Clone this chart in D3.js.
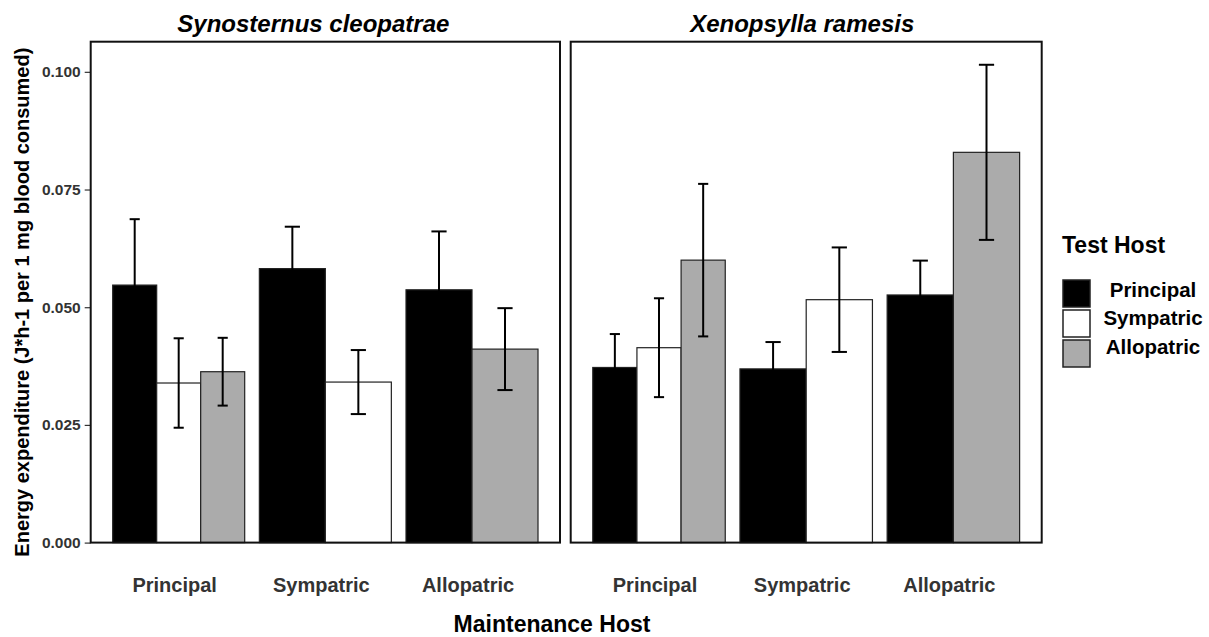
<!DOCTYPE html>
<html>
<head>
<meta charset="utf-8">
<script src="https://cdn.jsdelivr.net/npm/d3@7"></script>
<style>
  html, body { margin: 0; padding: 0; background: #fff; }
  text { font-family: "Liberation Sans", Arial, sans-serif; }
</style>
</head>
<body>
<script>
// ---------- data ----------
const panelTitles = ["Synosternus cleopatrae", "Xenopsylla ramesis"];
const maintenanceHosts = ["Principal", "Sympatric", "Allopatric"];
const testHosts = ["Principal", "Sympatric", "Allopatric"];
const testHostColors = ["#000000", "#ffffff", "#ababab"];
const yTickValues = [0, 0.025, 0.05, 0.075, 0.1];

// means: rows = maintenance host, cols = test host (null = not tested)
const cleopatraeMean = [
  [0.0547, 0.0339, 0.0363],
  [0.0582, 0.0341, null],
  [0.0537, null, 0.0411]
];
const cleopatraeSE = [
  [0.0140, 0.0095, 0.0072],
  [0.0089, 0.0068, null],
  [0.0124, null, 0.0087]
];
const ramesisMean = [
  [0.0372, 0.0414, 0.0600],
  [0.0369, 0.0516, null],
  [0.0526, null, 0.0829]
];
const ramesisSE = [
  [0.0071, 0.0105, 0.0162],
  [0.0057, 0.0111, null],
  [0.0073, null, 0.0186]
];
const panelMeans = [cleopatraeMean, ramesisMean];
const panelSEs = [cleopatraeSE, ramesisSE];

// ---------- layout ----------
const W = 1209, H = 637;
const panelRanges = [[90.7, 560], [570.7, 1041.7]];
const plotTop = 41.7, plotBottom = 542.6;

const svg = d3.select("body").append("svg").attr("width", W).attr("height", H);

const y = d3.scaleLinear().domain([0, 0.1064]).range([plotBottom, plotTop]);

// y axis
const yAxis = svg.append("g")
  .attr("transform", `translate(${panelRanges[0][0]},0)`)
  .call(d3.axisLeft(y).tickValues(yTickValues).tickFormat(d3.format(".3f")).tickSize(6).tickPadding(4));
yAxis.select(".domain").remove();
yAxis.selectAll(".tick line").attr("stroke", "#333").attr("stroke-width", 1.2);
yAxis.selectAll(".tick text")
  .attr("fill", "#333")
  .style("font-size", "15.5px")
  .style("font-weight", "bold")
  .style("font-family", "'Liberation Sans', Arial, sans-serif");

// y title
svg.append("text")
  .attr("transform", `translate(29,${(plotTop + plotBottom) / 2 + 10}) rotate(-90)`)
  .attr("text-anchor", "middle")
  .style("font-size", "20px")
  .style("font-weight", "bold")
  .attr("fill", "#000")
  .text("Energy expenditure (J*h-1 per 1 mg blood consumed)");

panelTitles.forEach((title, p) => {
  const [x0, x1] = panelRanges[p];
  const g = svg.append("g");
  const xs = d3.scalePoint().domain(maintenanceHosts).range([x0, x1]).padding(0.6);
  const step = xs.step();

  const bars = [];
  maintenanceHosts.forEach((mh, i) => {
    const present = testHosts.filter((th, j) => panelMeans[p][i][j] !== null);
    const inner = d3.scaleBand().domain(present)
      .range([xs(mh) - 0.45 * step, xs(mh) + 0.45 * step]).padding(0);
    testHosts.forEach((th, j) => {
      const v = panelMeans[p][i][j];
      if (v === null) return;
      bars.push({ x: inner(th), w: inner.bandwidth(), v, se: panelSEs[p][i][j], color: testHostColors[j] });
    });
  });

  g.selectAll("rect.bar").data(bars).enter().append("rect")
    .attr("class", "bar")
    .attr("x", d => d.x)
    .attr("width", d => d.w)
    .attr("y", d => y(d.v))
    .attr("height", d => y(0) - y(d.v))
    .attr("fill", d => d.color)
    .attr("stroke", "#222")
    .attr("stroke-width", 1.2);

  // error bars
  const eb = g.selectAll("g.eb").data(bars).enter().append("g").attr("class", "eb")
    .attr("stroke", "#000").attr("stroke-width", 2);
  eb.append("line")
    .attr("x1", d => d.x + d.w / 2).attr("x2", d => d.x + d.w / 2)
    .attr("y1", d => y(d.v + d.se)).attr("y2", d => y(d.v - d.se));
  eb.append("line")
    .attr("x1", d => d.x + d.w / 2 - d.w * 0.115).attr("x2", d => d.x + d.w / 2 + d.w * 0.115)
    .attr("y1", d => y(d.v + d.se)).attr("y2", d => y(d.v + d.se));
  eb.append("line")
    .attr("x1", d => d.x + d.w / 2 - d.w * 0.115).attr("x2", d => d.x + d.w / 2 + d.w * 0.115)
    .attr("y1", d => y(d.v - d.se)).attr("y2", d => y(d.v - d.se));

  // panel border
  g.append("rect")
    .attr("x", x0).attr("y", plotTop)
    .attr("width", x1 - x0).attr("height", plotBottom - plotTop)
    .attr("fill", "none").attr("stroke", "#111").attr("stroke-width", 2);

  // panel title
  svg.append("text")
    .attr("x", (x0 + x1) / 2 - (p === 0 ? 12 : 4)).attr("y", 32)
    .attr("text-anchor", "middle")
    .style("font-size", "24px").style("font-weight", "bold").style("font-style", "italic")
    .attr("fill", "#000")
    .text(title);

  // x tick labels
  svg.selectAll(null).data(maintenanceHosts).enter().append("text")
    .attr("x", d => xs(d) - 4).attr("y", 592)
    .attr("text-anchor", "middle")
    .style("font-size", "20px").style("font-weight", "bold")
    .attr("fill", "#333")
    .text(d => d);
});

// x title
svg.append("text")
  .attr("x", 552).attr("y", 632)
  .attr("text-anchor", "middle")
  .style("font-size", "23px").style("font-weight", "bold")
  .attr("fill", "#000")
  .text("Maintenance Host");

// legend
const lg = svg.append("g");
lg.append("text").attr("x", 1062).attr("y", 253)
  .style("font-size", "23px").style("font-weight", "bold").attr("fill", "#000")
  .text("Test Host");
testHosts.forEach((th, i) => {
  lg.append("rect")
    .attr("x", 1063).attr("y", 280 + i * 30)
    .attr("width", 27).attr("height", 27)
    .attr("fill", testHostColors[i]).attr("stroke", "#222").attr("stroke-width", 1.5);
  lg.append("text")
    .attr("x", 1153).attr("y", 297 + i * 28.3)
    .attr("text-anchor", "middle")
    .style("font-size", "20.5px").style("font-weight", "bold").attr("fill", "#000")
    .text(th);
});
</script>
</body>
</html>
